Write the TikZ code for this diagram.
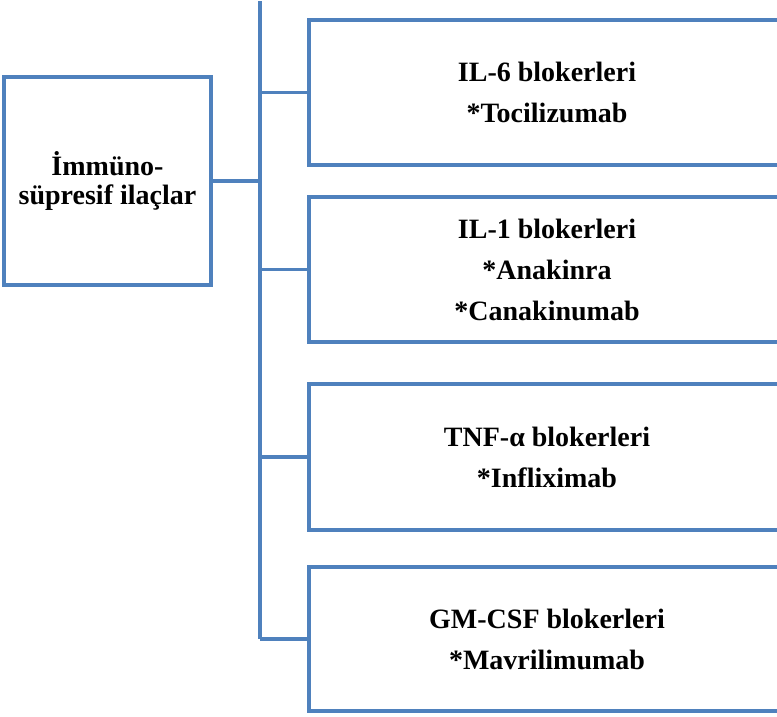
\documentclass[tikz,border=0pt]{standalone}
\usepackage{fontspec}
\setmainfont{Liberation Serif}
\definecolor{linkblue}{HTML}{4F81BD}
\begin{document}
\begin{tikzpicture}[x=1pt,y=-1pt,
  boxshape/.style={draw=linkblue, line width=3.2pt, rectangle, inner sep=0pt, align=center,
    font=\bfseries\fontsize{28}{41}\selectfont},
  link/.style={draw=linkblue, line width=3.2pt}]
\useasboundingbox (0,0) rectangle (777,716);
\clip (0,0) rectangle (777,716);
\node[boxshape, minimum width=207pt, minimum height=208pt,
      font=\bfseries\fontsize{28}{29}\selectfont] (L) at (107.5,181) {İmmüno-\\süpresif ilaçlar};
\node[boxshape, minimum width=476pt, minimum height=145pt] (b1) at (547,92.5) {IL-6 blokerleri\\*Tocilizumab};
\node[boxshape, minimum width=476pt, minimum height=145pt] (b2) at (547,269.5) {IL-1 blokerleri\\*Anakinra\\*Canakinumab};
\node[boxshape, minimum width=476pt, minimum height=146pt] (b3) at (547,457) {TNF-α blokerleri\\*Infliximab};
\node[boxshape, minimum width=476pt, minimum height=144pt] (b4) at (547,639) {GM-CSF blokerleri\\*Mavrilimumab};
\coordinate (top) at (260,1);
\coordinate (bot) at (260,639);
\draw[link] (top) -- (bot);
\draw[link] (L.east) -- (L.east -| top);
\foreach \b in {b1,b2,b3,b4} {
  \draw[link] (\b.west) -- (\b.west -| top);
}
\end{tikzpicture}
\end{document}
